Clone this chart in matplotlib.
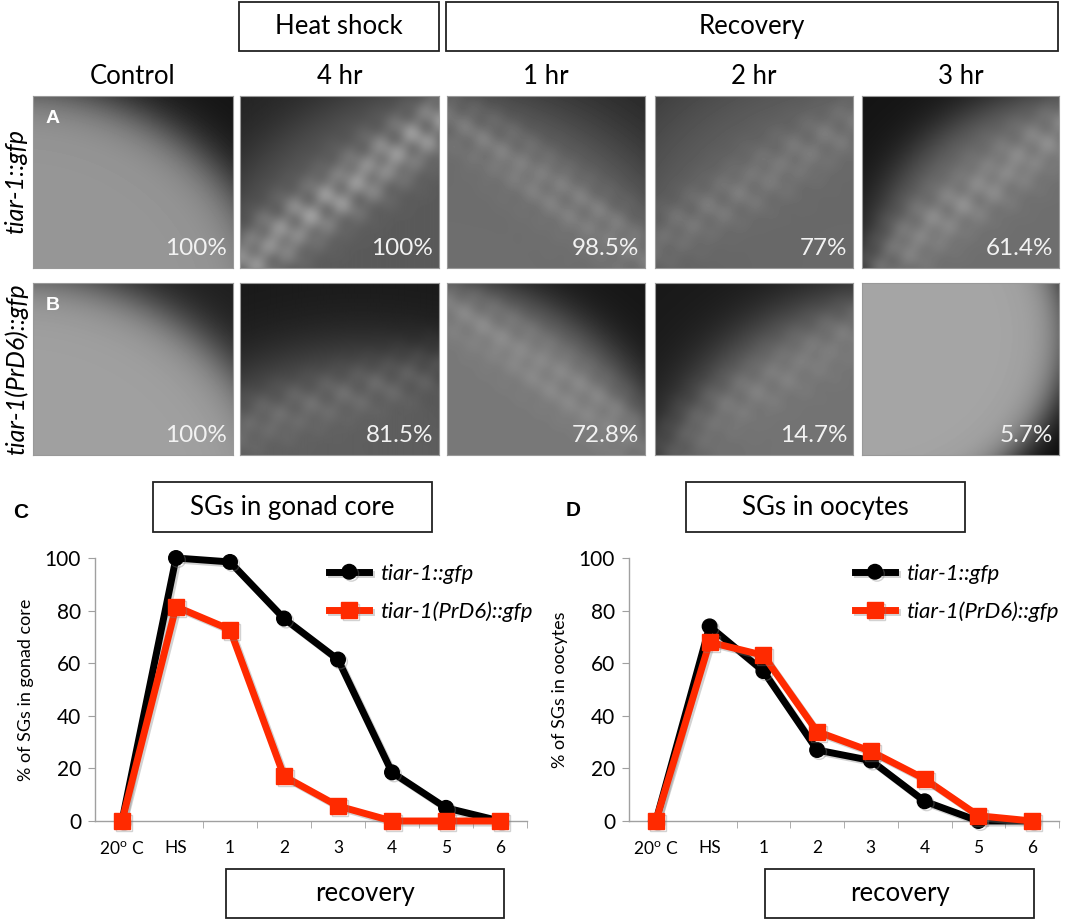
import numpy as np
import matplotlib
matplotlib.use('Agg')
import matplotlib.pyplot as plt
import matplotlib.patheffects as pe
from matplotlib.patches import Rectangle

plt.rcParams['font.family'] = ['Lato', 'DejaVu Sans']
plt.rcParams['mathtext.fontset'] = 'custom'
plt.rcParams['mathtext.rm'] = 'Lato'

W, H = 1065, 921

# ---- data ----
col_labels = ['Control', '4 hr', '1 hr', '2 hr', '3 hr']
row_labels = ['tiar-1::gfp', 'tiar-1(PrD6)::gfp']
panel_letters = ['A', 'B']
pct_wt = ['100%', '100%', '98.5%', '77%', '61.4%']
pct_prd6 = ['100%', '81.5%', '72.8%', '14.7%', '5.7%']

categories = [r'20$^{\rm o}$ C', 'HS', '1', '2', '3', '4', '5', '6']
gonad_wt = [0, 100, 98.5, 77, 61.4, 18.5, 5, 0]
gonad_prd6 = [0, 81.5, 72.8, 17, 5.7, 0, 0, 0]
oocyte_wt = [0, 74, 57, 27, 23, 7.5, 0, 0]
oocyte_prd6 = [0, 68, 63, 34, 26.5, 16, 2, 0]

# ---- layout (pixels) ----
col_px = [(33, 233), (240, 439), (447, 645), (655, 853), (862, 1059)]
row_px = [(96, 268), (283, 455)]

# fake micrograph look: (corner cx, cy, radius, softness, dark, bright, band angle, band offset, band amp)
panel_style = [
    [(-0.1, 1.25, 1.30, 0.08, 20, 150, 0, 0, 0),
     (1.2, 1.3, 1.45, 0.10, 35, 90, -40, 0.05, 70),
     (-0.1, 1.4, 1.45, 0.15, 35, 110, 40, 0.0, 30),
     (1.0, 1.0, 1.25, 0.20, 45, 105, -35, 0.0, 25),
     (1.1, 1.0, 1.05, 0.08, 20, 110, -40, 0.1, 35)],
    [(-0.1, 1.3, 1.35, 0.08, 30, 160, 0, 0, 0),
     (0.6, 1.6, 1.20, 0.12, 25, 95, -20, 0.15, 25),
     (-0.2, 1.3, 1.35, 0.08, 22, 120, 40, 0.0, 25),
     (1.2, 1.2, 1.15, 0.10, 25, 115, -35, 0.1, 20),
     (0.0, 0.3, 1.04, 0.06, 8, 165, 0, 0, 0)],
]


def fake_micrograph(h, w, style):
    cx, cy, r, soft, lo, hi, bang, boff, bamp = style
    yy, xx = np.mgrid[0:1:h * 1j, 0:1:w * 1j]
    dist = np.hypot(xx - cx, yy - cy)
    img = lo + (hi - lo) / (1 + np.exp(-(r - dist) / soft))
    if bamp:
        a = np.deg2rad(bang)
        d = -(xx - 0.5) * np.sin(a) + (yy - 0.5) * np.cos(a)
        blobs = (0.55 + 0.2 * np.sin(xx * 37 + 1.3) * np.sin(yy * 23 + xx * 11)
                 + 0.25 * np.sin(xx * 13 - yy * 19 + 0.7) ** 2)
        img = img + bamp * np.exp(-((d - boff) / 0.16) ** 2) * blobs
    return np.clip(img, 0, 255)


def px_axes(fig, x0, y0, x1, y1):
    return fig.add_axes([x0 / W, 1 - y1 / H, (x1 - x0) / W, (y1 - y0) / H])


fig = plt.figure(figsize=(W / 100, H / 100), dpi=100)

# ---- image panels ----
for ri, (y0, y1) in enumerate(row_px):
    pcts = pct_wt if ri == 0 else pct_prd6
    for ci, (x0, x1) in enumerate(col_px):
        ax = px_axes(fig, x0, y0, x1, y1)
        img = fake_micrograph(y1 - y0, x1 - x0, panel_style[ri][ci])
        ax.imshow(img, cmap='gray', vmin=0, vmax=255, aspect='auto', interpolation='bilinear')
        ax.set_xticks([])
        ax.set_yticks([])
        for s in ax.spines.values():
            s.set_color('#999999')
            s.set_linewidth(0.8)
        ax.text(0.97, 0.05, pcts[ci], transform=ax.transAxes, ha='right', va='bottom',
                color='#f2f2f2', fontsize=17.5)
        if ci == 0:
            ax.text(0.1, 0.87, panel_letters[ri], transform=ax.transAxes, ha='center',
                    va='center', color='white', fontsize=14, fontweight='bold',
                    family='Liberation Sans')


# ---- line charts ----
def line_chart(x0, x1, wt, prd6, ylab, leg_x):
    ax = px_axes(fig, x0, 558, x1, 821)
    xs = np.arange(len(categories))
    shadow = [pe.SimpleLineShadow(offset=(1.5, -1.5), shadow_color='gray', alpha=0.35), pe.Normal()]
    ax.plot(xs, wt, color='black', lw=5, marker='o', ms=10.5, label=row_labels[0],
            clip_on=False, path_effects=shadow, zorder=3)
    ax.plot(xs, prd6, color='#ff2a00', lw=5, marker='s', ms=11.5, label=row_labels[1],
            clip_on=False, path_effects=shadow, zorder=4)
    ax.set_xlim(-0.5, len(categories) - 0.5)
    ax.set_ylim(0, 100)
    ax.set_yticks(range(0, 101, 20))
    ax.set_xticks(xs, categories)
    ax.set_xticks(np.arange(1.5, len(categories), 1), minor=True)
    ax.tick_params(axis='x', which='major', length=0, pad=14, labelsize=12.5)
    ax.tick_params(axis='x', which='minor', length=5, color='#a0a0a0', direction='out')
    ax.tick_params(axis='y', length=5, color='#a0a0a0', labelsize=15, pad=5)
    for side in ['top', 'right']:
        ax.spines[side].set_visible(False)
    for side in ['left', 'bottom']:
        ax.spines[side].set_color('#a0a0a0')
        ax.spines[side].set_linewidth(1)
    ax.set_ylabel(ylab, fontsize=13, labelpad=8)
    ax.legend(loc='upper left', bbox_to_anchor=(leg_x, 1.055), frameon=False,
              prop={'style': 'italic', 'size': 16}, handlelength=1.8,
              labelspacing=0.8, handletextpad=0.5)
    return ax


ax_c = line_chart(95, 527, gonad_wt, gonad_prd6, '% of SGs in gonad core', 0.496)
ax_d = line_chart(629, 1059, oocyte_wt, oocyte_prd6, '% of SGs in oocytes', 0.479)

# ---- overlay boxes and labels ----
ov = fig.add_axes([0, 0, 1, 1])
ov.set_xlim(0, W)
ov.set_ylim(H, 0)
ov.axis('off')


def label_box(x0, y0, x1, y1, text):
    ov.add_patch(Rectangle((x0, y0), x1 - x0, y1 - y0, fill=False, ec='#222222', lw=1.3))
    ov.text((x0 + x1) / 2, (y0 + y1) / 2, text, ha='center', va='center', fontsize=18.5)


label_box(239, 2, 439, 51, 'Heat shock')
label_box(446, 2, 1058, 51, 'Recovery')
for (x0, x1), lab in zip(col_px, col_labels):
    ov.text((x0 + x1) / 2, 76, lab, ha='center', va='center', fontsize=18.5)
for (y0, y1), lab in zip(row_px, row_labels):
    ov.text(16, (y0 + y1) / 2, lab, ha='center', va='center', rotation=90,
            fontsize=18, style='italic')

label_box(153, 482, 432, 532, 'SGs in gonad core')
label_box(686, 482, 965, 532, 'SGs in oocytes')
label_box(226, 869, 504, 918, 'recovery')
label_box(765, 869, 1034, 918, 'recovery')
ov.text(21, 512, 'C', ha='center', va='center', fontsize=15, fontweight='bold', family='Liberation Sans')
ov.text(573, 510, 'D', ha='center', va='center', fontsize=15, fontweight='bold', family='Liberation Sans')

fig.savefig('out.png', dpi=100)
